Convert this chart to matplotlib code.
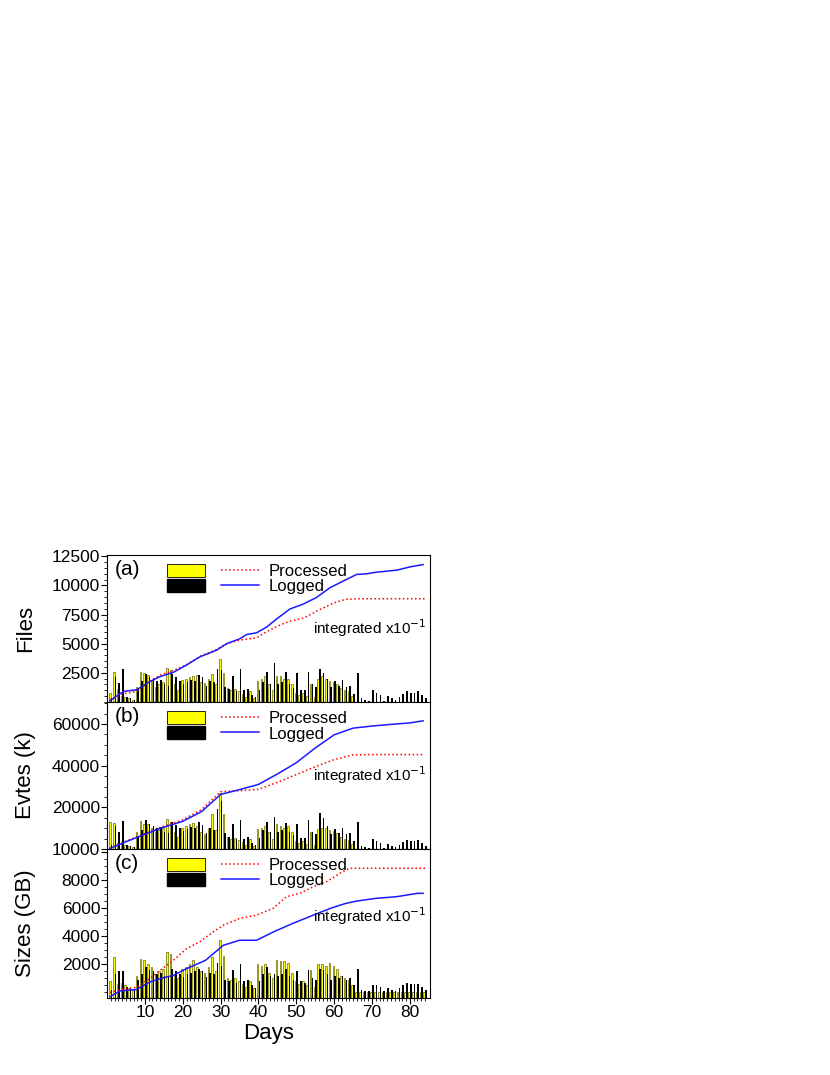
import matplotlib.pyplot as plt
import numpy as np
from matplotlib.patches import Patch
from matplotlib.lines import Line2D
from matplotlib.legend_handler import HandlerTuple

plt.rcParams['font.family'] = ['Liberation Sans', 'DejaVu Sans']

days = np.arange(1, 85)

# daily bars (a) files
files_proc = [800, 2600, 1100, 500, 400, 300, 200, 1300, 2600, 2500,
              2300, 1800, 1300, 1500, 1700, 2900, 2700, 1500, 1000, 1900,
              2000, 2100, 2200, 2300, 1700, 1600, 2000, 2400, 1500, 3700,
              2500, 1200, 1000, 1100, 900, 700, 400, 900, 300, 1800,
              2000, 2200, 1500, 1000, 2200, 2200, 2000, 2000, 1500, 800,
              600, 800, 500, 1500, 400, 2000, 2200, 2000, 1800, 1700,
              1500, 1200, 1000, 900, 500] + [0] * 19
files_log = [300, 2100, 1600, 2800, 400, 300, 200, 1100, 1800, 2400,
             2100, 2000, 1800, 1900, 1500, 1400, 2400, 2100, 1800, 1500,
             1700, 1900, 1800, 2300, 2100, 1400, 1800, 1700, 2800, 2700,
             1300, 1100, 2200, 900, 2800, 1000, 1100, 600, 400, 1000,
             1700, 2600, 1500, 3300, 1500, 1700, 2600, 1500, 1200, 2500,
             1000, 1000, 2600, 1500, 1300, 2800, 2500, 2000, 1300, 1800,
             1400, 1900, 1300, 1400, 700, 2500, 300, 200, 100, 1000,
             800, 600, 100, 500, 300, 200, 400, 700, 900, 800,
             800, 900, 600, 300]

# daily bars (b) events (k)
evts_proc = [13000, 12500, 3000, 2500, 2000, 1500, 1000, 8000, 13500, 12000,
             12000, 10000, 8000, 9000, 10000, 14500, 13000, 8000, 6000, 10000,
             11000, 12000, 12500, 11000, 8000, 7000, 10000, 17000, 9000, 27000,
             17000, 6000, 5000, 5500, 4500, 3500, 2000, 5000, 1500, 9500,
             10000, 11000, 8000, 5000, 12000, 11000, 10000, 11000, 8000, 4000,
             3000, 4000, 2500, 8000, 2000, 9500, 10000, 10000, 9000, 8500,
             7500, 6000, 5000, 4500, 2500] + [0] * 19
evts_log = [2000, 11000, 8000, 13500, 2000, 1500, 1000, 6000, 9000, 14000,
            12000, 11000, 10000, 10500, 8000, 7500, 13000, 11500, 10000, 8500,
            9500, 10500, 10000, 13000, 11500, 7500, 10000, 9000, 19000, 23000,
            7500, 6000, 12000, 5000, 14000, 5000, 6000, 3000, 2000, 5500,
            9000, 13000, 8000, 15500, 8000, 9000, 12500, 8000, 6500, 12000,
            5500, 5500, 14000, 8000, 7000, 17500, 15000, 11000, 7000, 9500,
            7500, 10000, 7000, 7500, 4000, 13000, 1500, 1000, 500, 5000,
            4000, 3000, 500, 2500, 1500, 1000, 2000, 3500, 4500, 4000,
            4000, 4500, 3000, 1500]

# daily bars (c) sizes (GB)
sizes_proc = [800, 2500, 600, 700, 500, 300, 200, 1200, 2400, 2300,
              2000, 1800, 1300, 1500, 1700, 2900, 2700, 1300, 1000, 1700,
              1800, 2000, 2300, 1800, 1500, 1400, 1800, 2500, 1500, 3700,
              2600, 1000, 900, 1000, 800, 600, 400, 800, 300, 2000,
              1900, 2000, 1400, 1000, 2300, 2200, 2200, 2100, 1400, 800,
              600, 800, 500, 1600, 400, 2000, 2000, 1900, 2100, 1900,
              1700, 1200, 1000, 900, 500] + [0] * 19
sizes_log = [200, 1300, 1500, 1500, 400, 300, 200, 900, 1300, 1800,
             1600, 1500, 1300, 1400, 1200, 1100, 1700, 1500, 1300, 1100,
             1300, 1400, 1500, 1700, 1500, 1100, 1400, 1300, 2100, 1900,
             900, 800, 1600, 700, 2000, 800, 900, 500, 300, 800,
             1300, 1800, 1200, 1300, 1200, 1300, 1700, 1200, 900, 1500,
             800, 700, 1600, 1000, 900, 1700, 1600, 1300, 900, 1200,
             1000, 1200, 900, 1000, 500, 1700, 200, 100, 100, 500,
             500, 400, 100, 300, 200, 100, 300, 500, 700, 600,
             600, 600, 400, 200]

# integrated curves (x10^-1)
files_log_d = [0.8, 4.3, 7.8, 11.3, 14, 17.5, 21, 24.5, 28.9, 31.6, 35.1, 36.9, 39.5, 42.1, 44.8,
               48.3, 51.8, 55.3, 58.9, 62.4, 65.9, 68.5, 71.2, 76.5, 80, 83.5]
files_log_int = [110, 905, 1045, 1750, 2175, 2540, 3165, 3870, 4435, 5000, 5425, 5790, 5930, 6410,
                 7120, 7970, 8390, 8955, 9800, 10370, 10930, 10990, 11130, 11300, 11580, 11780]
files_proc_d = [0.8, 4.3, 7.8, 11.3, 14, 17.5, 21, 24.5, 28.9, 31.6, 35, 39.5, 42, 45, 48, 52,
                56, 60, 63, 66, 84]
files_proc_int = [200, 700, 900, 1800, 2300, 2700, 3200, 3900, 4500, 5000, 5300, 5500, 6000, 6500,
                  6900, 7200, 7900, 8500, 8800, 8850, 8850]

evts_d = [0.8, 5, 10, 15, 20, 25, 30, 35, 40, 45, 50, 55, 60, 65, 70, 75, 80, 83.5]
evts_log_int = [300, 3500, 7100, 10500, 13300, 18000, 26200, 28500, 31000, 36000, 41400, 48500,
                54800, 58000, 59000, 59800, 60500, 61500]
evts_proc_int = [400, 3800, 7400, 11000, 14000, 19000, 27500, 28000, 28600, 32000, 35700, 39500,
                 42900, 45200, 45300, 45300, 45300, 45300]

sizes_proc_d = [0.8, 4.3, 7.8, 11.3, 14, 17.5, 21, 24.5, 28, 30.7, 35, 39.5, 43.9, 47.4, 51,
                54.5, 58, 61.5, 64, 84]
sizes_proc_int = [0, 250, 360, 980, 1570, 2280, 3120, 3600, 4300, 4780, 5260, 5500, 5980, 6810,
                  7050, 7520, 7880, 8470, 8830, 8830]
sizes_log_d = [0.8, 3.4, 7.8, 11.3, 14, 17.5, 21, 26, 30.7, 35, 39.5, 44, 49, 54.5, 59, 63, 66,
               71, 76.5, 82, 83.5]
sizes_log_int = [-300, 100, 214, 740, 980, 1210, 1690, 2280, 3350, 3710, 3710, 4310, 4900, 5500,
                 5980, 6330, 6500, 6690, 6810, 7050, 7050]

fig = plt.figure(figsize=(8.3, 10.75), dpi=100)
left, width = 0.129, 0.389
panels = [
    dict(pos=[left, 0.347, width, 0.1367], ylab='Files', tag='(a)', ylim=(0, 12600),
         ticks=[2500, 5000, 7500, 10000, 12500], tlabels=None, minor=500,
         bars=(files_proc, files_log),
         lines=(files_proc_d, files_proc_int, files_log_d, files_log_int)),
    dict(pos=[left, 0.2102, width, 0.1367], ylab='Evtes (k)', tag='(b)', ylim=(0, 70500),
         ticks=[0, 20000, 40000, 60000], tlabels=['10000', '20000', '40000', '60000'], minor=5000,
         bars=(evts_proc, evts_log),
         lines=(evts_d, evts_proc_int, evts_d, evts_log_int)),
    dict(pos=[left, 0.0716, width, 0.1386], ylab='Sizes (GB)', tag='(c)', ylim=(-400, 10200),
         ticks=[2000, 4000, 6000, 8000, 10000], tlabels=['2000', '4000', '6000', '8000', ''], minor=500,
         bars=(sizes_proc, sizes_log),
         lines=(sizes_proc_d, sizes_proc_int, sizes_log_d, sizes_log_int)),
]

for i, p in enumerate(panels):
    ax = fig.add_axes(p['pos'])
    y0 = p['ylim'][0]
    proc, log = p['bars']
    ax.bar(days - 0.22, np.array(proc) - y0, bottom=y0, width=0.42, color='yellow',
           edgecolor='#6a6a00', linewidth=0.5)
    ax.bar(days + 0.22, np.array(log) - y0, bottom=y0, width=0.42, color='black')
    pd_, pv, ld, lv = p['lines']
    ax.plot(pd_, pv, color='red', linestyle=':', linewidth=1.1)
    ax.plot(ld, lv, color='#1a1aff', linewidth=1.1)
    ax.set_xlim(0, 85.3)
    ax.set_ylim(*p['ylim'])
    ax.set_yticks(p['ticks'])
    if p['tlabels'] is not None:
        ax.set_yticklabels(p['tlabels'])
    ax.set_yticks(np.arange(0, p['ylim'][1], p['minor']), minor=True)
    ax.set_xticks(np.arange(10, 81, 10))
    ax.set_xticks(np.arange(1, 85), minor=True)
    ax.tick_params(labelsize=12.5, direction='out', length=4, pad=1)
    ax.tick_params(which='minor', length=2.5)
    if i < 2:
        ax.tick_params(axis='x', labelbottom=False)
    ax.set_ylabel(p['ylab'], fontsize=16)
    ax.yaxis.set_label_coords(-0.22, 0.5)
    ax.text(0.025, 0.9, p['tag'], transform=ax.transAxes, fontsize=15, va='center')
    ax.text(0.99, 0.5 if i < 2 else 0.55, r'integrated x10$^{-1}$', transform=ax.transAxes,
            fontsize=11, ha='right', va='center')
    h1 = (Patch(facecolor='yellow', edgecolor='black', linewidth=0.6),
          Line2D([], [], color='red', linestyle=':', linewidth=1.1))
    h2 = (Patch(facecolor='black', edgecolor='black'),
          Line2D([], [], color='#1a1aff', linewidth=1.1))
    ax.legend([h1, h2], ['Processed', 'Logged'],
              handler_map={tuple: HandlerTuple(ndivide=None, pad=1.0)},
              loc='upper left', bbox_to_anchor=(0.14, 1.04), frameon=False,
              fontsize=12, handlelength=5.5, handleheight=0.8, labelspacing=0.0,
              handletextpad=0.6)
    if i == 2:
        ax.set_xlabel('Days', fontsize=16, labelpad=2)

fig.savefig('out.png', dpi=100)
